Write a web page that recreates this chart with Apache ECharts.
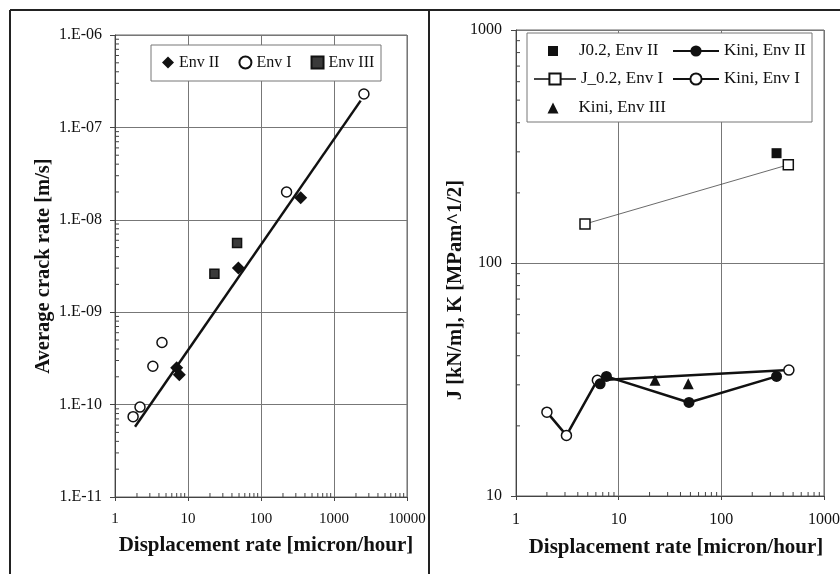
<!DOCTYPE html>
<html><head><meta charset="utf-8">
<script src="https://cdn.jsdelivr.net/npm/echarts@6/dist/echarts.min.js"></script>
<style>html,body{margin:0;padding:0;background:#fff}#c{width:840px;height:574px}</style>
</head><body><div id="c"></div>
<script>
// ---------- Left panel data ----------
const leftXTicks = [1, 10, 100, 1000, 10000];
const leftXTickLabels = ['1', '10', '100', '1000', '10000'];
const leftYTicks = [1e-11, 1e-10, 1e-9, 1e-8, 1e-7, 1e-6];
const leftYTickLabels = ['1.E-11', '1.E-10', '1.E-09', '1.E-08', '1.E-07', '1.E-06'];

const envII_x = [7.0, 7.6, 49, 350];
const envII_y = [2.5e-10, 2.1e-10, 3.0e-9, 1.73e-8];
const envI_x = [1.77, 2.2, 3.3, 4.4, 224, 2570];
const envI_y = [7.4e-11, 9.4e-11, 2.6e-10, 4.7e-10, 2.0e-8, 2.3e-7];
const envIII_x = [23, 47];
const envIII_y = [2.6e-9, 5.6e-9];
const trend_x = [1.88, 2320];
const trend_y = [5.75e-11, 1.95e-7];

// ---------- Right panel data ----------
const rightXTicks = [1, 10, 100, 1000];
const rightXTickLabels = ['1', '10', '100', '1000'];
const rightYTicks = [10, 100, 1000];
const rightYTickLabels = ['10', '100', '1000'];

const j02EnvII_x = [345];
const j02EnvII_y = [296];
const j02EnvI_x = [4.7, 449];
const j02EnvI_y = [147, 264];
const kiniEnvII_x = [6.6, 7.6, 48.4, 345];
const kiniEnvII_y = [30.3, 32.6, 25.2, 32.6];
const kiniEnvI_x = [2.0, 3.1, 6.2, 455];
const kiniEnvI_y = [22.9, 18.2, 31.4, 34.7];
const kiniEnvIII_x = [22.6, 47.6];
const kiniEnvIII_y = [31.4, 30.3];

// ---------- helpers ----------
const FONT = 'Liberation Serif';
const INK = '#111';
const zip = (xs, ys) => xs.map((x, i) => [x, ys[i]]);
function fmt(ticks, labels) {
  return v => {
    for (let i = 0; i < ticks.length; i++) {
      if (Math.abs(Math.log10(v) - Math.log10(ticks[i])) < 1e-6) return labels[i];
    }
    return '';
  };
}
function minorValues(ticks) {
  const out = [];
  for (let i = 0; i < ticks.length - 1; i++) for (let k = 2; k <= 9; k++) out.push(k * ticks[i]);
  return out;
}
function tickSeries(gi, vals, fixed, dir) {
  return {
    type: 'custom', xAxisIndex: gi, yAxisIndex: gi, silent: true, z: 3,
    data: dir === 'x' ? vals.map(v => [v, fixed]) : vals.map(v => [fixed, v]),
    encode: { x: 0, y: 1 },
    renderItem: (params, api) => {
      const p = api.coord([api.value(0), api.value(1)]);
      const shape = dir === 'x'
        ? { x1: p[0], y1: p[1], x2: p[0], y2: p[1] - 4 }
        : { x1: p[0], y1: p[1], x2: p[0] + 4, y2: p[1] };
      return { type: 'line', shape, style: { stroke: '#444', lineWidth: 1 } };
    }
  };
}
function xAxisOpt(gi, ticks, labels, gap, fs, margin, pad) {
  return {
    type: 'log', logBase: 10, gridIndex: gi, min: ticks[0], max: ticks[ticks.length - 1],
    name: 'Displacement rate [micron/hour]', nameLocation: 'middle', nameGap: gap,
    nameTextStyle: { fontFamily: FONT, fontSize: 21, fontWeight: 'bold', color: INK, padding: pad },
    axisLine: { onZero: false, lineStyle: { color: '#444', width: 1 } },
    axisTick: { show: true, length: 4, lineStyle: { color: '#444' } },
    axisLabel: { fontFamily: FONT, fontSize: fs, color: INK, margin: margin, formatter: fmt(ticks, labels) },
    splitLine: { show: true, lineStyle: { color: '#777', width: 1 } }
  };
}
function yAxisOpt(gi, ticks, labels, name, gap, fs, margin, pad) {
  return {
    type: 'log', logBase: 10, gridIndex: gi, min: ticks[0], max: ticks[ticks.length - 1],
    name: name, nameLocation: 'middle', nameGap: gap,
    nameTextStyle: { fontFamily: FONT, fontSize: 20.5, fontWeight: 'bold', color: INK, padding: pad },
    axisLine: { onZero: false, lineStyle: { color: '#444', width: 1 } },
    axisTick: { show: true, length: 5, lineStyle: { color: '#444' } },
    axisLabel: { fontFamily: FONT, fontSize: fs, color: INK, margin: margin, formatter: fmt(ticks, labels) },
    splitLine: { show: true, lineStyle: { color: '#777', width: 1 } }
  };
}
const openStyle = { color: '#fff', borderColor: INK, borderWidth: 1.5, opacity: 1 };

const chart = echarts.init(document.getElementById('c'));
chart.setOption({
  backgroundColor: '#fff',
  animation: false,
  grid: [
    { left: 115, top: 35, width: 292, height: 462, show: true, borderColor: '#666', borderWidth: 1, outerBoundsMode: 'none' },
    { left: 516, top: 30, width: 308, height: 466, show: true, borderColor: '#666', borderWidth: 1, outerBoundsMode: 'none' }
  ],
  xAxis: [
    xAxisOpt(0, leftXTicks, leftXTickLabels, 38, 15, 15, [0, 0, 0, 10]),
    xAxisOpt(1, rightXTicks, rightXTickLabels, 41, 16, 16, [0, 0, 0, 12])
  ],
  yAxis: [
    yAxisOpt(0, leftYTicks, leftYTickLabels, 'Average crack rate [m/s]', 61, 16, 13, [0, 0, 0, 0]),
    yAxisOpt(1, rightYTicks, rightYTickLabels, 'J [kN/m], K [MPam^1/2]', 42, 16, 14, [0, 54, 0, 0])
  ],
  legend: [
    { left: 162, top: 54.5, padding: 0, itemWidth: 12, itemHeight: 12, itemGap: 19,
      data: ['Env II', 'Env I', 'Env III'], textStyle: { fontFamily: FONT, fontSize: 16, color: INK } },
    { left: 548, top: 42.5, padding: 0, itemWidth: 10, itemHeight: 10,
      data: ['J0.2, Env II'], textStyle: { fontFamily: FONT, fontSize: 17, color: INK, padding: [0, 0, 0, 16] } },
    { left: 533, top: 70.5, padding: 0, itemWidth: 42, itemHeight: 14,
      data: ['J_0.2, Env I'], textStyle: { fontFamily: FONT, fontSize: 17, color: INK } },
    { left: 547.5, top: 99.5, padding: 0, itemWidth: 11, itemHeight: 11,
      data: ['Kini, Env III'], textStyle: { fontFamily: FONT, fontSize: 17, color: INK, padding: [0, 0, 0, 15] } },
    { left: 672, top: 42.5, padding: 0, itemWidth: 46, itemHeight: 14,
      data: ['Kini, Env II'], textStyle: { fontFamily: FONT, fontSize: 17, color: INK } },
    { left: 672, top: 70.5, padding: 0, itemWidth: 46, itemHeight: 14,
      data: ['Kini, Env I'], textStyle: { fontFamily: FONT, fontSize: 17, color: INK } }
  ],
  graphic: { elements: [
    { type: 'rect', z: 2, shape: { x: 151, y: 45, width: 230, height: 36 }, style: { fill: '#fff', stroke: '#777', lineWidth: 1 } },
    { type: 'rect', z: 2, shape: { x: 527, y: 33, width: 285, height: 89 }, style: { fill: '#fff', stroke: '#777', lineWidth: 1 } },
    { type: 'line', z: 5, shape: { x1: 10, y1: 10, x2: 840, y2: 10 }, style: { stroke: '#222', lineWidth: 2 } },
    { type: 'line', z: 5, shape: { x1: 10, y1: 10, x2: 10, y2: 574 }, style: { stroke: '#222', lineWidth: 2 } },
    { type: 'line', z: 5, shape: { x1: 429, y1: 10, x2: 429, y2: 574 }, style: { stroke: '#222', lineWidth: 2 } }
  ] },
  series: [
    tickSeries(0, minorValues(leftXTicks), leftYTicks[0], 'x'),
    tickSeries(0, minorValues(leftYTicks), leftXTicks[0], 'y'),
    tickSeries(1, minorValues(rightXTicks), rightYTicks[0], 'x'),
    tickSeries(1, minorValues(rightYTicks), rightXTicks[0], 'y'),
    { name: 'trend', type: 'line', xAxisIndex: 0, yAxisIndex: 0, data: zip(trend_x, trend_y),
      symbol: 'none', lineStyle: { color: INK, width: 2.5 }, z: 4, silent: true },
    { name: 'Env II', type: 'scatter', xAxisIndex: 0, yAxisIndex: 0, data: zip(envII_x, envII_y),
      symbol: 'diamond', symbolSize: 13, itemStyle: { color: INK, opacity: 1 }, z: 5 },
    { name: 'Env I', type: 'scatter', xAxisIndex: 0, yAxisIndex: 0, data: zip(envI_x, envI_y),
      symbol: 'circle', symbolSize: 10, itemStyle: openStyle, z: 5 },
    { name: 'Env III', type: 'scatter', xAxisIndex: 0, yAxisIndex: 0, data: zip(envIII_x, envIII_y),
      symbol: 'rect', symbolSize: 9, itemStyle: { color: '#3a3a3a', borderColor: INK, borderWidth: 1.5, opacity: 1 }, z: 5 },

    { name: 'J_0.2, Env I', type: 'line', xAxisIndex: 1, yAxisIndex: 1, data: zip(j02EnvI_x, j02EnvI_y),
      symbol: 'rect', symbolSize: 10, showSymbol: true, lineStyle: { color: '#444', width: 0.8 }, itemStyle: openStyle, z: 4 },
    { name: 'J0.2, Env II', type: 'scatter', xAxisIndex: 1, yAxisIndex: 1, data: zip(j02EnvII_x, j02EnvII_y),
      symbol: 'rect', symbolSize: 10, itemStyle: { color: INK, opacity: 1 }, z: 5 },
    { name: 'Kini, Env I', type: 'line', xAxisIndex: 1, yAxisIndex: 1, data: zip(kiniEnvI_x, kiniEnvI_y),
      symbol: 'circle', symbolSize: 10, showSymbol: true, lineStyle: { color: INK, width: 2.5 }, itemStyle: openStyle, z: 4 },
    { name: 'Kini, Env II', type: 'line', xAxisIndex: 1, yAxisIndex: 1, data: zip(kiniEnvII_x, kiniEnvII_y),
      symbol: 'circle', symbolSize: 11, showSymbol: true, lineStyle: { color: INK, width: 2.5 }, itemStyle: { color: INK, opacity: 1 }, z: 5 },
    { name: 'Kini, Env III', type: 'scatter', xAxisIndex: 1, yAxisIndex: 1, data: zip(kiniEnvIII_x, kiniEnvIII_y),
      symbol: 'triangle', symbolSize: 11, itemStyle: { color: INK, opacity: 1 }, z: 5 }
  ]
});
</script>
</body></html>
